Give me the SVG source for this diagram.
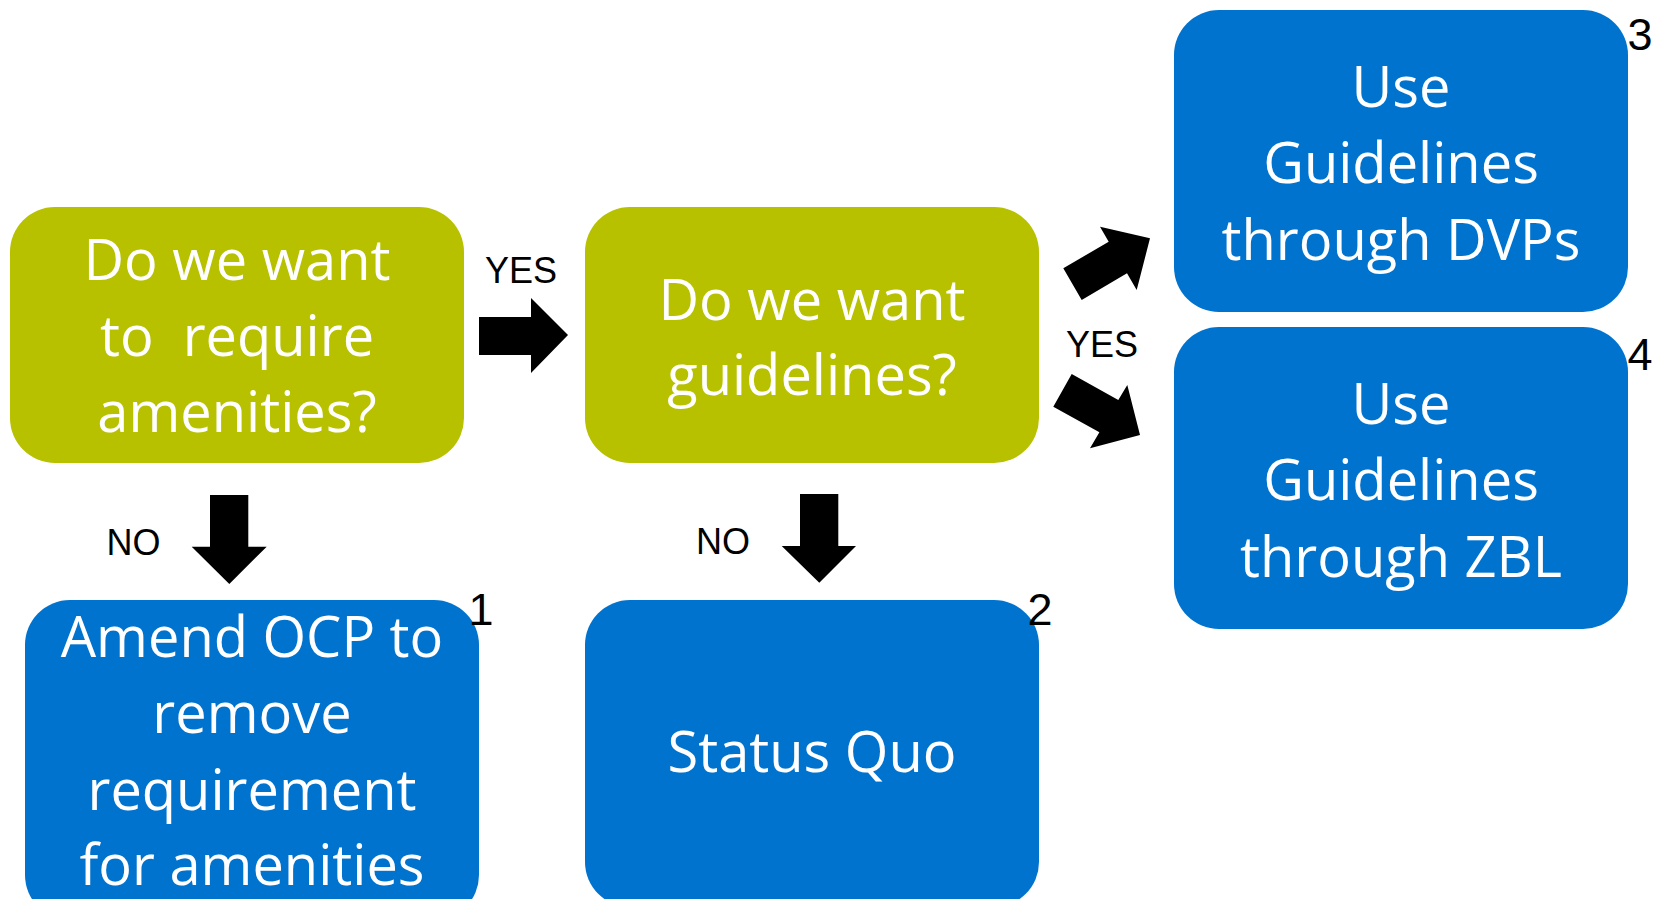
<svg xmlns="http://www.w3.org/2000/svg" width="1654" height="899" viewBox="0 0 1654 899">
<style>
.q{fill:#B7C100}
.a{fill:#0073CF}
.t{font-family:"Open Sans","Liberation Sans",sans-serif;font-size:56px;fill:#fff;text-anchor:middle}
.l{font-family:"Liberation Sans",Arial,sans-serif;font-size:36px;fill:#000;text-anchor:middle}
.n{font-family:"Liberation Sans",Arial,sans-serif;font-size:45px;fill:#000;text-anchor:middle}
.arr{fill:#000}
</style>
<rect width="1654" height="899" fill="#fff"/>
<g id="q1">
<rect class="q" x="10" y="207" width="454" height="256" rx="45"/>
<text class="t" x="237" y="280">Do we want</text>
<text class="t" x="237" y="356" xml:space="preserve">to  require</text>
<text class="t" x="237" y="432">amenities?</text>
</g>
<g id="q2">
<rect class="q" x="585" y="207" width="454" height="256" rx="45"/>
<text class="t" x="812" y="320">Do we want</text>
<text class="t" x="812" y="395">guidelines?</text>
</g>
<g id="o1">
<rect class="a" x="25" y="600" width="454" height="320" rx="45"/>
<text class="t" x="252" y="657">Amend OCP to</text>
<text class="t" x="252" y="733">remove</text>
<text class="t" x="252" y="810">requirement</text>
<text class="t" x="252" y="885">for amenities</text>
<text class="n" x="481" y="625">1</text>
</g>
<g id="o2">
<rect class="a" x="585" y="600" width="454" height="307" rx="45"/>
<text class="t" x="812" y="772">Status Quo</text>
<text class="n" x="1040" y="625">2</text>
</g>
<g id="o3">
<rect class="a" x="1174" y="10" width="454" height="302" rx="45"/>
<text class="t" x="1401" y="107">Use</text>
<text class="t" x="1401" y="183">Guidelines</text>
<text class="t" x="1401" y="260">through DVPs</text>
<text class="n" x="1640" y="50">3</text>
</g>
<g id="o4">
<rect class="a" x="1174" y="327" width="454" height="302" rx="45"/>
<text class="t" x="1401" y="424">Use</text>
<text class="t" x="1401" y="500">Guidelines</text>
<text class="t" x="1401" y="577">through ZBL</text>
<text class="n" x="1640" y="370">4</text>
</g>
<g id="connectors">
<polygon class="arr" points="479,317 531,317 531,298 568,335 531,373 531,355 479,355"/>
<text class="l" x="521" y="283">YES</text>
<polygon class="arr" points="210,495 248.3,495 248.3,546.7 266.7,546.7 229.3,584 191.7,546.7 210,546.7"/>
<text class="l" x="133.5" y="555">NO</text>
<polygon class="arr" points="800,494 838.3,494 838.3,546 856,546 819.3,582.7 781.7,546 800,546"/>
<text class="l" x="723" y="554">NO</text>
<polygon class="arr" points="1063.3,268.3 1108.7,241.7 1100,226.7 1150,238.3 1136.7,290 1127,273.3 1081.7,300"/>
<polygon class="arr" points="1071.7,374 1118.3,400 1127.3,385 1140,435 1090,448.3 1099.4,432.3 1053.3,406.7"/>
<text class="l" x="1102" y="357">YES</text>
</g>
</svg>
